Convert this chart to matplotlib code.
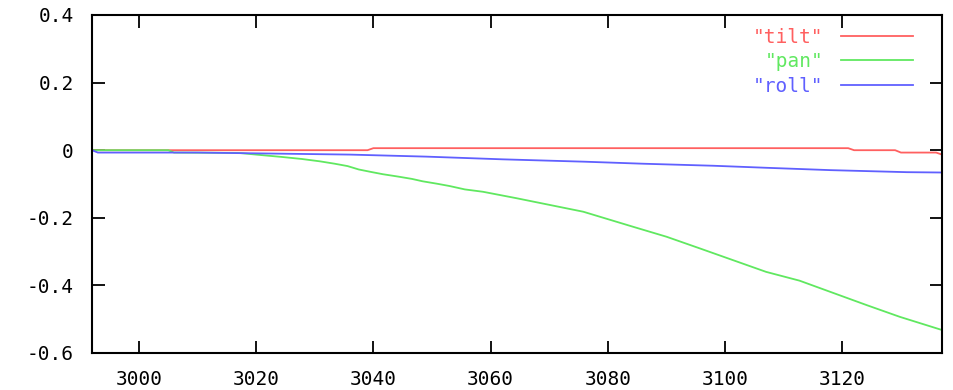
import matplotlib
matplotlib.use("Agg")
import matplotlib.pyplot as plt
from matplotlib.ticker import FuncFormatter, FixedLocator

plt.rcParams['axes.unicode_minus'] = False
plt.rcParams['font.family'] = ['DejaVu Sans Mono']

# --- data ---
tilt_x = [2992, 3039, 3040, 3121, 3122, 3129, 3130, 3136, 3137]
tilt_y = [0.0, 0.0, 0.006, 0.006, 0.0, 0.0, -0.007, -0.007, -0.013]

pan_x = [2992, 3005, 3006, 3017, 3020, 3024.4, 3027.8, 3030.9, 3033.4, 3035.6,
         3037.5, 3039.5, 3041.6, 3044.2, 3046.6, 3048.4, 3050.8, 3053.0, 3055.6,
         3058.7, 3064.4, 3070.1, 3075.8, 3080.0, 3084.2, 3090.0, 3095.6, 3101.3,
         3107.0, 3112.7, 3118.4, 3124.1, 3129.8, 3137]
pan_y = [0.0, 0.0, -0.007, -0.008, -0.013, -0.020, -0.026, -0.033, -0.040, -0.047,
         -0.057, -0.064, -0.071, -0.078, -0.085, -0.092, -0.099, -0.106, -0.116,
         -0.123, -0.142, -0.162, -0.182, -0.204, -0.226, -0.256, -0.290, -0.325,
         -0.360, -0.386, -0.422, -0.458, -0.493, -0.532]

roll_x = [2992, 2993, 3010, 3036, 3049, 3062, 3076, 3086, 3098, 3107, 3118, 3131, 3137]
roll_y = [0.0, -0.007, -0.007, -0.013, -0.019, -0.027, -0.034, -0.040, -0.046,
          -0.052, -0.059, -0.065, -0.066]

x_ticks = [3000, 3020, 3040, 3060, 3080, 3100, 3120]
y_ticks = [-0.6, -0.4, -0.2, 0.0, 0.2, 0.4]

labels = ['"tilt"', '"pan"', '"roll"']
colors = ['#ff6060', '#60e860', '#6060ff']

fig = plt.figure(figsize=(9.54, 3.90), dpi=100)
ax = fig.add_axes([92/954, 1-353/390, 850/954, 338/390])

ax.plot(tilt_x, tilt_y, color=colors[0], lw=1.3, label=labels[0])
ax.plot(pan_x, pan_y, color=colors[1], lw=1.3, label=labels[1])
ax.plot(roll_x, roll_y, color=colors[2], lw=1.3, label=labels[2])

ax.set_xlim(2992, 3137)
ax.set_ylim(-0.6, 0.4)
ax.xaxis.set_major_locator(FixedLocator(x_ticks))
ax.yaxis.set_major_locator(FixedLocator(y_ticks))
ax.yaxis.set_major_formatter(FuncFormatter(lambda v, p: f"{v:g}" if abs(v) > 1e-9 else "0"))
ax.xaxis.set_major_formatter(FuncFormatter(lambda v, p: f"{v:.0f}"))

for s in ax.spines.values():
    s.set_linewidth(1.5)
    s.set_color('black')
ax.tick_params(direction='in', length=9, width=1.3, top=True, right=True,
               labelsize=14, colors='black')
ax.tick_params(axis='y', pad=13)
ax.tick_params(axis='x', pad=12)

leg = ax.legend(loc='upper right', bbox_to_anchor=((913-92)/850, 1-(28-15)/338),
                frameon=False, markerfirst=False, labelcolor='linecolor',
                fontsize=14, handlelength=3.7, handletextpad=0.9,
                labelspacing=0.27, borderaxespad=0, borderpad=0)

fig.savefig('out.png', dpi=100)
